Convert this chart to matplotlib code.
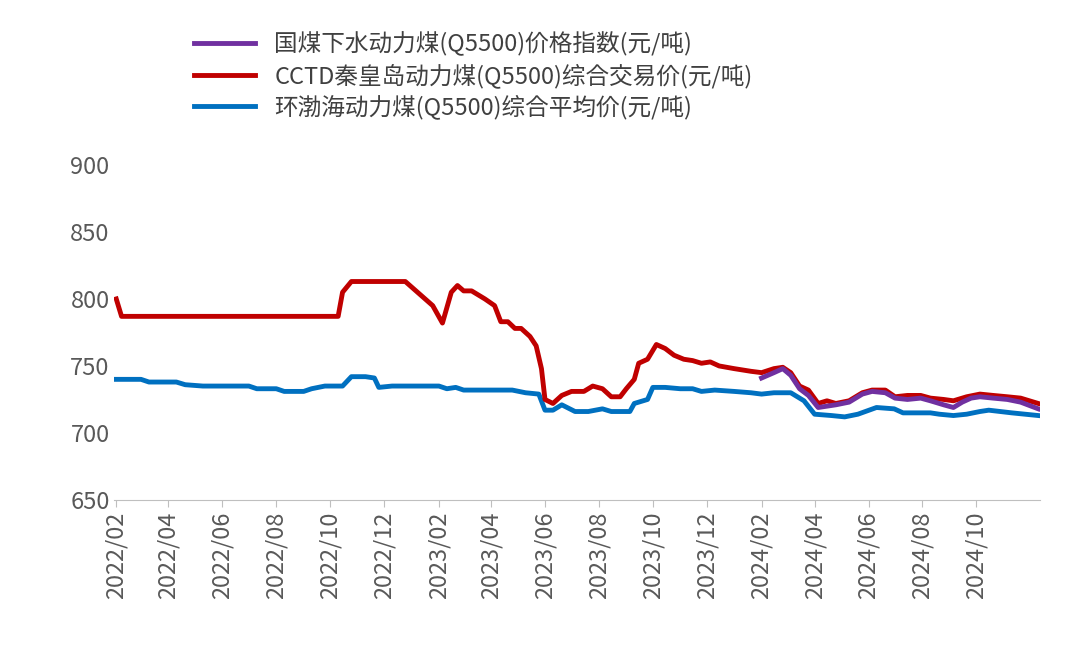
import matplotlib
matplotlib.use("Agg")
import matplotlib.pyplot as plt
from matplotlib import font_manager
import pandas as pd

cjk = [f.name for f in font_manager.fontManager.ttflist if "CJK" in f.name]
pref = [n for n in cjk if n.endswith("SC")] or cjk
plt.rcParams["font.family"] = "sans-serif"
plt.rcParams["font.sans-serif"] = (pref[:1] if pref else []) + ["Noto Sans CJK SC", "DejaVu Sans"]

red_dates = ["2022-02-01","2022-02-07","2022-10-10","2022-10-15","2022-10-25","2022-12-25","2023-01-25","2023-02-05","2023-02-15","2023-02-22","2023-03-01","2023-03-10","2023-03-25","2023-04-05","2023-04-12","2023-04-20","2023-04-28","2023-05-05","2023-05-15","2023-05-22","2023-05-28","2023-06-01","2023-06-10","2023-06-20","2023-07-01","2023-07-15","2023-07-25","2023-08-05","2023-08-15","2023-08-25","2023-09-01","2023-09-10","2023-09-15","2023-09-25","2023-10-05","2023-10-15","2023-10-25","2023-11-05","2023-11-15","2023-11-25","2023-12-05","2023-12-15","2024-01-01","2024-01-20","2024-02-01","2024-02-15","2024-02-25","2024-03-05","2024-03-15","2024-03-25","2024-04-05","2024-04-15","2024-04-25","2024-05-10","2024-05-25","2024-06-05","2024-06-20","2024-07-01","2024-07-15","2024-07-30","2024-08-10","2024-08-25","2024-09-05","2024-09-20","2024-10-05","2024-10-20","2024-11-05","2024-11-20","2024-12-10"]
red_vals = [800,787,787,805,813,813,795,782,805,810,806,806,800,795,783,783,778,778,772,765,748,725,722,728,731,731,735,733,727,727,733,740,752,755,766,763,758,755,754,752,753,750,748,746,745,748,749,745,735,732,722,724,722,724,730,732,732,727,728,728,726,725,724,727,729,728,727,726,722]

purple_dates = ["2024-02-01","2024-02-15","2024-02-25","2024-03-05","2024-03-15","2024-03-25","2024-04-05","2024-04-15","2024-04-25","2024-05-10","2024-05-25","2024-06-05","2024-06-20","2024-07-01","2024-07-15","2024-07-30","2024-08-10","2024-08-25","2024-09-05","2024-09-15","2024-09-25","2024-10-05","2024-10-20","2024-11-05","2024-11-20","2024-12-10"]
purple_vals = [741,745,748,743,733,728,719,720,721,723,729,731,730,726,725,726,724,721,719,723,726,727,726,725,723,718]

blue_dates = ["2022-02-01","2022-03-01","2022-03-10","2022-04-10","2022-04-20","2022-05-10","2022-07-01","2022-07-10","2022-08-01","2022-08-10","2022-09-01","2022-09-10","2022-09-25","2022-10-15","2022-10-25","2022-11-10","2022-11-20","2022-11-25","2022-12-10","2023-02-01","2023-02-10","2023-02-20","2023-03-01","2023-04-25","2023-05-10","2023-05-25","2023-06-01","2023-06-10","2023-06-20","2023-07-05","2023-07-20","2023-08-05","2023-08-15","2023-09-05","2023-09-10","2023-09-25","2023-10-01","2023-10-15","2023-11-01","2023-11-15","2023-11-25","2023-12-10","2024-01-01","2024-01-20","2024-02-01","2024-02-15","2024-03-05","2024-03-20","2024-04-01","2024-04-20","2024-05-05","2024-05-20","2024-06-10","2024-06-30","2024-07-10","2024-08-10","2024-08-20","2024-09-05","2024-09-20","2024-10-05","2024-10-15","2024-11-10","2024-11-25","2024-12-10"]
blue_vals = [740,740,738,738,736,735,735,733,733,731,731,733,735,735,742,742,741,734,735,735,733,734,732,732,730,729,717,717,721,716,716,718,716,716,722,725,734,734,733,733,731,732,731,730,729,730,730,724,714,713,712,714,719,718,715,715,714,713,714,716,717,715,714,713]

labels = ["国煤下水动力煤(Q5500)价格指数(元/吨)",
          "CCTD秦皇岛动力煤(Q5500)综合交易价(元/吨)",
          "环渤海动力煤(Q5500)综合平均价(元/吨)"]
tick_months = ["2022/02","2022/04","2022/06","2022/08","2022/10","2022/12","2023/02","2023/04","2023/06","2023/08","2023/10","2023/12","2024/02","2024/04","2024/06","2024/08","2024/10"]

fig = plt.figure(figsize=(10.8, 6.57), dpi=100)
ax = fig.add_axes([0.106, 0.239, 0.857, 0.51])
ax.plot(pd.to_datetime(red_dates), red_vals, color="#C00000", lw=3.5, label=labels[1], zorder=2)
ax.plot(pd.to_datetime(purple_dates), purple_vals, color="#7030A0", lw=3.5, label=labels[0], zorder=3)
ax.plot(pd.to_datetime(blue_dates), blue_vals, color="#0070C0", lw=3.5, label=labels[2], zorder=1)

ax.set_ylim(650, 900)
ax.set_yticks(range(650, 901, 50))
ax.set_xlim(pd.Timestamp("2022-01-30"), pd.Timestamp("2024-12-12"))
ticks = pd.to_datetime([t.replace("/", "-") + "-01" for t in tick_months])
ax.set_xticks(ticks)
ax.set_xticklabels(tick_months, rotation=90)
ax.tick_params(axis="both", labelsize=17, colors="#595959")
ax.tick_params(axis="y", length=0)
ax.tick_params(axis="x", length=5, color="#BFBFBF")
for s in ["top", "right", "left"]:
    ax.spines[s].set_visible(False)
ax.spines["bottom"].set_color("#BFBFBF")

h, l = ax.get_legend_handles_labels()
order = [1, 0, 2]
fig.legend([h[i] for i in order], [l[i] for i in order], loc="upper left",
           bbox_to_anchor=(0.16, 0.985), frameon=False, fontsize=17,
           handlelength=2.6, labelspacing=0.3, labelcolor="#404040")
fig.savefig("out.png", dpi=100)
